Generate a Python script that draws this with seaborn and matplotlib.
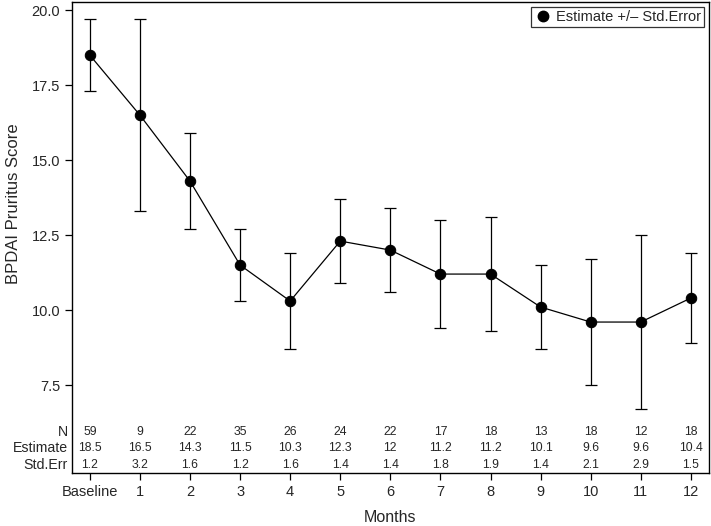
import numpy as np
import pandas as pd
import matplotlib
matplotlib.use("Agg")
import matplotlib.pyplot as plt
from matplotlib.lines import Line2D
import seaborn as sns

# ─── DATA ─────────────────────────────────────────────────────
visits    = ["Baseline", "1", "2", "3", "4", "5", "6", "7", "8", "9", "10", "11", "12"]
n_pts     = [59, 9, 22, 35, 26, 24, 22, 17, 18, 13, 18, 12, 18]
estimate  = [18.5, 16.5, 14.3, 11.5, 10.3, 12.3, 12, 11.2, 11.2, 10.1, 9.6, 9.6, 10.4]
std_err   = [1.2, 3.2, 1.6, 1.2, 1.6, 1.4, 1.4, 1.8, 1.9, 1.4, 2.1, 2.9, 1.5]
yticks    = [7.5, 10.0, 12.5, 15.0, 17.5, 20.0]

df = pd.DataFrame({"pos": np.arange(len(visits)), "Estimate": estimate, "SE": std_err})

# ─── STYLE ────────────────────────────────────────────────────
sns.set_style("ticks")
plt.rcParams["font.family"] = ["Liberation Sans", "DejaVu Sans"]

fig, ax = plt.subplots(figsize=(7.11, 5.26), dpi=100)
fig.subplots_adjust(left=0.101, right=0.997, top=0.996, bottom=0.101)

# error bars then line + markers
ax.errorbar(df["pos"], df["Estimate"], yerr=df["SE"], fmt="none",
            ecolor="black", elinewidth=0.9, capsize=4, capthick=0.9, zorder=2)
sns.lineplot(data=df, x="pos", y="Estimate", ax=ax, color="black",
             linewidth=0.9, marker="o", markersize=7.5, markeredgecolor="black",
             zorder=3)

ax.set_xlim(-0.36, 12.36)
ax.set_ylim(4.57, 20.27)
ax.set_yticks(yticks)
ax.set_yticklabels([f"{v:.1f}" for v in yticks])
ax.set_xticks(df["pos"])
ax.set_xticklabels(visits)
ax.tick_params(axis="both", labelsize=10.5, length=5, width=0.9, color="black")
for s in ax.spines.values():
    s.set_linewidth(1.0)
    s.set_color("black")

ax.set_xlabel("Months", fontsize=11.5, labelpad=8)
ax.set_ylabel("BPDAI Pruritus Score", fontsize=12)
# label sits centred on the plotted score range, not the whole axes
ax.yaxis.set_label_coords(-0.079, 0.571)

# ─── TABLE INSIDE AXES ────────────────────────────────────────
rows = [("N", [str(v) for v in n_pts], 5.93),
        ("Estimate", [f"{v:g}" for v in estimate], 5.40),
        ("Std.Err", [f"{v:g}" for v in std_err], 4.84)]
for label, vals, yy in rows:
    ax.text(-0.44, yy, label, ha="right", va="center", fontsize=10.2,
            clip_on=False)
    for x, t in zip(df["pos"], vals):
        ax.text(x, yy, t, ha="center", va="center", fontsize=8.8)

# legend
handle = Line2D([], [], color="black", marker="o", linestyle="none", markersize=7.5)
leg = ax.legend([handle], ["Estimate +/\u2013 Std.Error"], loc="upper right",
                fontsize=10.5, frameon=True, fancybox=False, handletextpad=0.3,
                borderpad=0.2, borderaxespad=0.35, handlelength=1.2)
leg.get_frame().set_edgecolor("black")
leg.get_frame().set_linewidth(0.9)

plt.savefig("out.png", dpi=100)
plt.close()
